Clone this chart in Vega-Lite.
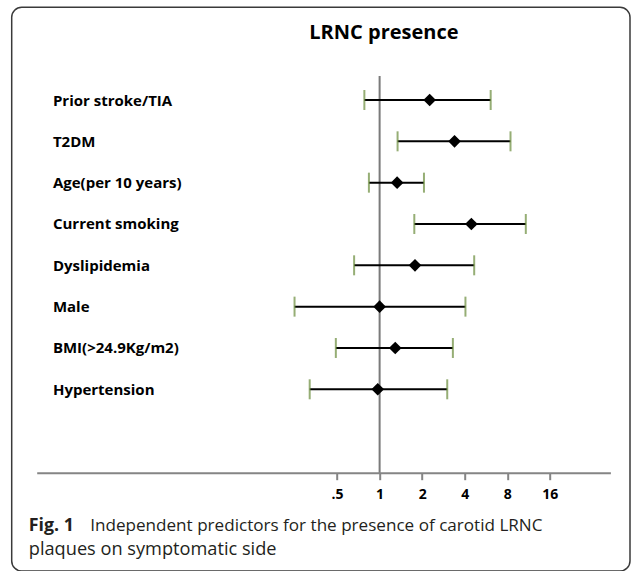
{
  "$schema": "https://vega.github.io/schema/vega-lite/v6.json",
  "width": 618.3,
  "height": 563.7,
  "autosize": {"type": "none"},
  "padding": {"left": 11.7, "top": 7.3, "right": 1, "bottom": 0},
  "background": "white",
  "config": {
    "font": "Open Sans",
    "view": {"stroke": "#3a3a3a", "strokeWidth": 1.5, "cornerRadius": 10},
    "axis": {"grid": false}
  },
  "title": {
    "text": "LRNC presence",
    "orient": "top",
    "anchor": "start",
    "frame": "group",
    "offset": 0,
    "dx": 297.6,
    "dy": 52,
    "baseline": "alphabetic",
    "font": "Open Sans",
    "fontSize": 20,
    "fontWeight": "bold",
    "color": "#000000"
  },
  "datasets": {
    "rows": [
      {"factor": "Prior stroke/TIA", "or": 2.26, "lower": 0.78, "upper": 6.11},
      {"factor": "T2DM", "or": 3.39, "lower": 1.34, "upper": 8.44},
      {"factor": "Age(per 10 years)", "or": 1.33, "lower": 0.84, "upper": 2.06},
      {"factor": "Current smoking", "or": 4.46, "lower": 1.76, "upper": 10.83},
      {"factor": "Dyslipidemia", "or": 1.78, "lower": 0.66, "upper": 4.67},
      {"factor": "Male", "or": 1.0, "lower": 0.25, "upper": 4.05},
      {"factor": "BMI(>24.9Kg/m2)", "or": 1.29, "lower": 0.49, "upper": 3.30},
      {"factor": "Hypertension", "or": 0.97, "lower": 0.32, "upper": 3.01}
    ],
    "reference": [{"ref": 1}]
  },
  "layer": [
    {
      "data": {"name": "reference"},
      "mark": {"type": "rule", "color": "#7a7a7a", "strokeWidth": 2},
      "encoding": {
        "x": {
          "field": "ref",
          "type": "quantitative",
          "title": "Fig. 1",
          "scale": {"type": "log", "base": 2, "domain": [0.003743, 42.98], "range": [25, 598.7], "nice": false, "zero": false},
          "axis": {
            "values": [0.5, 1, 2, 4, 8, 16],
            "labelExpr": "datum.value < 1 ? '.5' : toString(datum.value)",
            "offset": -98.3,
            "domainColor": "#858585",
            "domainWidth": 2,
            "tickColor": "#858585",
            "tickWidth": 2,
            "tickSize": 7,
            "labelFont": "Open Sans",
            "labelFontSize": 14,
            "labelFontWeight": "bold",
            "labelColor": "#000000",
            "labelPadding": 8,
            "title": "Fig. 1",
            "titleFont": "Open Sans",
            "titleFontSize": 17.8,
            "titleFontWeight": "bold",
            "titleColor": "#231f20",
            "titleAlign": "left",
            "titleAnchor": "start",
            "titleBaseline": "alphabetic",
            "titleX": 16.6,
            "titleY": 58
          }
        },
        "y": {
          "datum": 0,
          "type": "quantitative",
          "scale": {"domain": [0, 1], "range": [465.4, 68.7], "nice": false, "zero": false},
          "axis": {
            "orient": "left",
            "labels": false,
            "ticks": false,
            "domain": false,
            "grid": false,
            "title": "plaques on symptomatic side",
            "titleAngle": 0,
            "titleAlign": "left",
            "titleAnchor": "start",
            "titleBaseline": "alphabetic",
            "titleX": 16.6,
            "titleY": 546.7,
            "titleFont": "Open Sans",
            "titleFontSize": 18.2,
            "titleFontWeight": "normal",
            "titleColor": "#231f20"
          }
        },
        "y2": {"datum": 1}
      }
    },
    {
      "data": {"name": "rows"},
      "encoding": {
        "y": {
          "field": "factor",
          "type": "nominal",
          "scale": {
            "type": "point",
            "domain": ["Prior stroke/TIA", "T2DM", "Age(per 10 years)", "Current smoking", "Dyslipidemia", "Male", "BMI(>24.9Kg/m2)", "Hypertension"],
            "range": [92.7, 382],
            "padding": 0
          },
          "axis": {
            "orient": "left",
            "ticks": false,
            "domain": false,
            "grid": false,
            "labelAlign": "left",
            "labelBaseline": "middle",
            "labelPadding": -40.7,
            "labelFont": "Open Sans",
            "labelFontSize": 15,
            "labelFontWeight": "bold",
            "labelColor": "#000000",
            "labelLimit": 300,
            "title": "Independent predictors for the presence of carotid LRNC",
            "titleAngle": 0,
            "titleAlign": "left",
            "titleAnchor": "start",
            "titleBaseline": "alphabetic",
            "titleX": 78,
            "titleY": 523.4,
            "titleFont": "Open Sans",
            "titleFontSize": 17.1,
            "titleFontWeight": "normal",
            "titleColor": "#231f20"
          }
        }
      },
      "layer": [
        {
          "mark": {"type": "rule", "color": "#000000", "strokeWidth": 2},
          "encoding": {
            "x": {"field": "lower", "type": "quantitative", "title": "Fig. 1"},
            "x2": {"field": "upper", "title": "Fig. 1"}
          }
        },
        {
          "mark": {"type": "tick", "color": "#6a8c3a", "thickness": 2, "size": 20, "orient": "vertical"},
          "encoding": {
            "x": {"field": "lower", "type": "quantitative", "title": "Fig. 1"}
          }
        },
        {
          "mark": {"type": "tick", "color": "#6a8c3a", "thickness": 2, "size": 20, "orient": "vertical"},
          "encoding": {
            "x": {"field": "upper", "type": "quantitative", "title": "Fig. 1"}
          }
        },
        {
          "mark": {"type": "point", "shape": "diamond", "filled": true, "color": "#000000", "opacity": 1, "size": 160},
          "encoding": {
            "x": {"field": "or", "type": "quantitative", "title": "Fig. 1"}
          }
        }
      ]
    }
  ],
  "resolve": {"scale": {"y": "independent"}}
}
